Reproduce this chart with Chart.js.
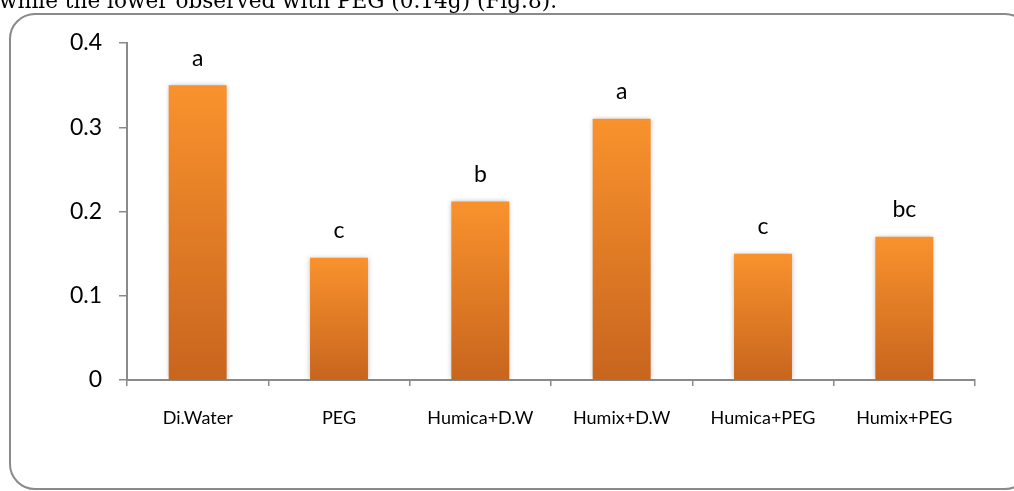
<!DOCTYPE html>
<html>
<head>
<meta charset="utf-8">
<script src="https://cdn.jsdelivr.net/npm/chart.js@4/dist/chart.umd.min.js"></script>
<style>
  html, body { margin: 0; padding: 0; background: #fff; }
  #wrap { position: relative; width: 1014px; height: 491px; overflow: hidden; }
  #frame {
    position: absolute; left: 9px; top: 13px; width: 1022px; height: 477px;
    border: 2px solid #8a8a8a; border-radius: 26px; box-sizing: border-box;
  }
  canvas { position: absolute; left: 0; top: 0; }
</style>
</head>
<body>
<div id="wrap">
  <div id="frame"></div>
  <canvas id="c" width="1014" height="491"></canvas>
</div>
<script>
// Treatments and measured values
const categories = ["Di.Water", "PEG", "Humica+D.W", "Humix+D.W", "Humica+PEG", "Humix+PEG"];
const values = [0.35, 0.145, 0.212, 0.31, 0.15, 0.17];
const groupLetters = ["a", "c", "b", "a", "c", "bc"];
const yTicks = [0, 0.1, 0.2, 0.3, 0.4];
const captionText = "while the lower observed with PEG (0.14g) (Fig.8).";

const axisGray = "#8a8a8a";
const sans = "Lato, 'Open Sans', sans-serif";

// Per-bar vertical gradient, from the bar's top down to the baseline
function barFill(ctx) {
  const chart = ctx.chart;
  const y = chart.scales.y;
  if (!y || ctx.dataIndex === undefined) return "#f39030";
  const top = y.getPixelForValue(values[ctx.dataIndex]);
  const bottom = y.getPixelForValue(0);
  if (!isFinite(top) || !isFinite(bottom)) return "#f39030";
  const g = chart.ctx.createLinearGradient(0, top, 0, bottom);
  g.addColorStop(0, "#f9922d");
  g.addColorStop(1, "#c8651e");
  return g;
}

const extras = {
  id: "extras",
  beforeDatasetsDraw(chart) {
    const c = chart.ctx;
    c.save();
    c.shadowColor = "rgba(0,0,0,0.28)";
    c.shadowBlur = 5;
    c.shadowOffsetX = 0;
    c.shadowOffsetY = 0;
  },
  afterDatasetsDraw(chart) {
    const c = chart.ctx;
    c.restore();
    const meta = chart.getDatasetMeta(0);
    c.save();
    c.fillStyle = "#000";
    c.font = "23px " + sans;
    c.textAlign = "center";
    c.textBaseline = "middle";
    meta.data.forEach((bar, i) => {
      c.fillText(groupLetters[i], bar.x, bar.y - 27);
    });
    c.restore();
  },
  afterDraw(chart) {
    const c = chart.ctx;
    c.save();
    c.fillStyle = "#000";
    c.font = "21.6px 'DejaVu Serif', serif";
    c.textAlign = "left";
    c.textBaseline = "alphabetic";
    c.fillText(captionText, -1, 8);
    c.restore();
  }
};

new Chart(document.getElementById("c"), {
  type: "bar",
  data: {
    labels: categories,
    datasets: [{
      data: values,
      backgroundColor: barFill,
      borderWidth: 0,
      categoryPercentage: 1,
      barPercentage: 0.41
    }]
  },
  options: {
    responsive: false,
    animation: false,
    devicePixelRatio: 1,
    layout: { padding: { left: 0, right: 39, top: 43, bottom: 0 } },
    plugins: { legend: { display: false }, tooltip: { enabled: false } },
    scales: {
      x: {
        grid: {
          offset: true,
          drawOnChartArea: false,
          color: axisGray,
          lineWidth: 1.5,
          tickLength: 6
        },
        border: { color: axisGray, width: 2 },
        ticks: {
          color: "#000",
          font: { family: sans, size: 18 },
          padding: 21,
          maxRotation: 0
        },
        afterFit(s) { s.height = 111; }
      },
      y: {
        min: 0,
        max: 0.4,
        afterBuildTicks(s) { s.ticks = yTicks.map(v => ({ value: v })); },
        grid: {
          drawOnChartArea: false,
          color: axisGray,
          lineWidth: 1.5,
          tickLength: 8
        },
        border: { color: axisGray, width: 2 },
        ticks: {
          color: "#000",
          font: { family: sans, size: 23 },
          padding: 17,
          callback: v => (v === 0 ? "0" : v.toFixed(1))
        },
        afterFit(s) { s.width = 127; }
      }
    }
  },
  plugins: [extras]
});
</script>
</body>
</html>
